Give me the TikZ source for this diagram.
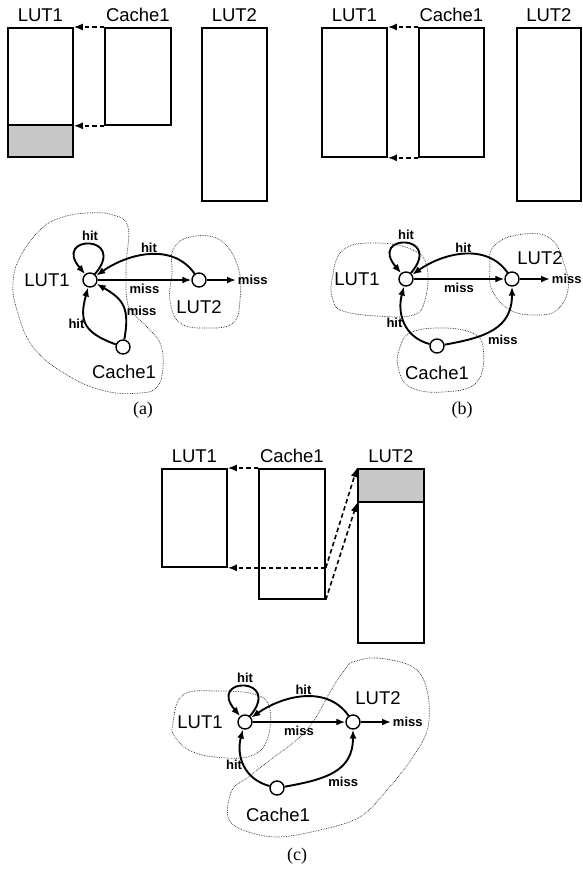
\documentclass[tikz,border=0pt]{standalone}
\usepackage{fontspec}
\setmainfont{Liberation Sans}
\newfontfamily\capfont{Liberation Serif}
\usetikzlibrary{arrows.meta}

\begin{document}
\begin{tikzpicture}[x=1pt,y=1pt,
        mem/.style={
        draw=black, line width=1.8pt,
        anchor=north west, inner sep=0pt,
        minimum width=65pt},
        memfill/.style={mem, fill=black!22},
        state/.style={
        circle, draw=black, line width=1.4pt,
        inner sep=0pt, minimum size=14pt,
        fill=white},
        txt/.style={font=\fontsize{18.5}{20}\selectfont, inner sep=3pt},
        tag/.style={font=\bfseries\fontsize{13}{14}\selectfont, inner sep=1pt},
        move/.style={-{Latex[length=9pt,width=7pt]}, line width=1.9pt},
        copy/.style={-{Latex[length=9pt,width=7pt]}, line width=1.6pt, dash pattern=on 4.5pt off 3pt},
        region/.style={draw=black!85, line width=0.7pt, densely dotted},
        every loop/.style={},
        every label/.style={txt},
        label distance=2pt
        ]

        \useasboundingbox (0,0) rectangle (583,-878);

        % (a)
        \node (aL1) [mem, minimum height=97pt, label = above:LUT1] at (7,-27){};
        \node (aS1) [memfill, minimum height=32pt] at (7,-124){};
        \node (aC1) [mem, minimum width=66pt, minimum height=97pt, label = above:Cache1] at (104,-27){};
        \node (aL2) [mem, minimum height=173pt, label = above:LUT2] at (201,-27){};
        \draw [copy] (aC1.north west) -- (aL1.north east);
        \draw [copy] (aC1.south west) -- (aL1.south east);

        \draw [region] plot[smooth cycle, tension=0.7] coordinates {(128,-227) (126,-267) (127,-300) (133,-313) (147,-327) (160,-343) (163,-367) (157,-387) (140,-393) (105,-391) (67,-375) (33,-347) (17,-310) (13,-283) (20,-257) (40,-230) (60,-218) (87,-213) (113,-215)};
        \draw [region] plot[smooth cycle, tension=0.7] coordinates {(173,-250) (190,-237) (220,-240) (238,-267) (240,-300) (233,-323) (207,-328) (180,-323) (170,-300) (172,-273)};

        \node (a1) [state] at (90,-280){};
        \node (a2) [state] at (199,-280){};
        \node (a3) [state] at (123,-347){};
        \coordinate (a4) at (236,-280);
        \node [txt] at (47,-280){LUT1};
        \node [txt] at (199,-307){LUT2};
        \node [txt] at (124,-372){Cache1};

        \draw [move] (a1) to[loop, out=50, in=130, min distance=52pt] node[tag, above=2pt]{hit} (a1);
        \draw [move] (a2) to[out=125, in=35] node[tag, above]{hit} (a1);
        \draw [move] (a1) -- node[tag, below=2pt]{miss} (a2);
        \draw [move] (a2) -- (a4) node[tag, right]{miss};
        \draw [move] (a3) to[out=160, in=255, looseness=1.4] node[tag, left]{hit} (a1);
        \draw [move] (a3) to[out=80, in=-30, looseness=1.3] node[tag, right, pos=0.4]{miss} (a1);

        \node [font=\capfont\fontsize{18}{20}\selectfont] at (143,-410){(a)};

        % (b)
        \node (bL1) [mem, minimum height=129pt, label = above:LUT1] at (321,-27){};
        \node (bC1) [mem, minimum height=129pt, label = above:Cache1] at (418,-27){};
        \node (bL2) [mem, minimum width=64pt, minimum height=173pt, label = above:LUT2] at (516,-27){};
        \draw [copy] (bC1.north west) -- (bL1.north east);
        \draw [copy] (bC1.south west) -- (bL1.south east);

        \draw [region] plot[smooth cycle, tension=0.7] coordinates {(333,-300) (332,-280) (343,-250) (377,-243) (413,-250) (427,-267) (425,-300) (413,-315) (377,-316) (343,-311)};
        \draw [region] plot[smooth cycle, tension=0.7] coordinates {(490,-267) (493,-247) (517,-235) (550,-238) (565,-267) (568,-290) (557,-310) (537,-315) (510,-310) (492,-290)};
        \draw [region] plot[smooth cycle, tension=0.7] coordinates {(437,-328) (470,-332) (483,-347) (477,-382) (443,-392) (410,-387) (398,-367) (400,-347) (410,-333)};

        \node (b1) [state] at (406,-279){};
        \node (b2) [state] at (512,-279){};
        \node (b3) [state] at (437,-346){};
        \coordinate (b4) at (550,-279);
        \node [txt] at (357,-279){LUT1};
        \node [txt] at (540,-258){LUT2};
        \node [txt] at (437,-373){Cache1};

        \draw [move] (b1) to[loop, out=50, in=130, min distance=52pt] node[tag, above=2pt]{hit} (b1);
        \draw [move] (b2) to[out=125, in=35] node[tag, above]{hit} (b1);
        \draw [move] (b1) -- node[tag, below=2pt]{miss} (b2);
        \draw [move] (b2) -- (b4) node[tag, right]{miss};
        \draw [move] (b3) to[out=165, in=255, looseness=1.1] node[tag, left]{hit} (b1);
        \draw [move] (b3) to[out=10, in=270, looseness=1.2] node[tag, below right, pos=0.4]{miss} (b2);

        \node [font=\capfont\fontsize{18}{20}\selectfont] at (462,-410){(b)};

        % (c)
        \node (cL1) [mem, minimum height=98pt, label = above:LUT1] at (161,-468){};
        \node (cC1) [mem, minimum width=66pt, minimum height=130pt, label = above:Cache1] at (258,-468){};
        \node (cS2) [memfill, minimum width=66pt, minimum height=33pt, label = above:LUT2] at (357,-468){};
        \node (cL2) [mem, minimum width=66pt, minimum height=141pt] at (357,-501){};
        \coordinate (c5) at (cL1.south east -| cC1.east);
        \draw [copy] (cC1.north west) -- (cL1.north east);
        \draw [copy] (c5) -- (cL1.south east);
        \draw [copy] (c5) -- (cS2.north west);
        \draw [copy] (cC1.south east) -- (cS2.south west);

        \draw [region] plot[smooth cycle, tension=0.7] coordinates {(173,-723) (183,-695) (217,-691) (257,-695) (270,-710) (267,-740) (253,-755) (227,-758) (193,-752) (175,-737)};
        \draw [region] plot[smooth cycle, tension=0.6] coordinates {(353,-662) (377,-658) (413,-667) (427,-690) (428,-727) (413,-757) (387,-790) (360,-817) (320,-830) (277,-837) (243,-830) (228,-817) (232,-790) (247,-778) (270,-760) (307,-730) (333,-687) (347,-667)};

        \node (c1) [state] at (245,-722){};
        \node (c2) [state] at (353,-722){};
        \node (c3) [state] at (277,-788){};
        \coordinate (c4) at (391,-722);
        \node [txt] at (200,-722){LUT1};
        \node [txt] at (378,-698){LUT2};
        \node [txt] at (278,-815){Cache1};

        \draw [move] (c1) to[loop, out=50, in=130, min distance=52pt] node[tag, above=2pt]{hit} (c1);
        \draw [move] (c2) to[out=125, in=35] node[tag, above]{hit} (c1);
        \draw [move] (c1) -- node[tag, below=2pt]{miss} (c2);
        \draw [move] (c2) -- (c4) node[tag, right]{miss};
        \draw [move] (c3) to[out=165, in=255, looseness=1.1] node[tag, left]{hit} (c1);
        \draw [move] (c3) to[out=10, in=270, looseness=1.2] node[tag, below right, pos=0.4]{miss} (c2);

        \node [font=\capfont\fontsize{18}{20}\selectfont] at (297,-856){(c)};
    \end{tikzpicture}
\end{document}
